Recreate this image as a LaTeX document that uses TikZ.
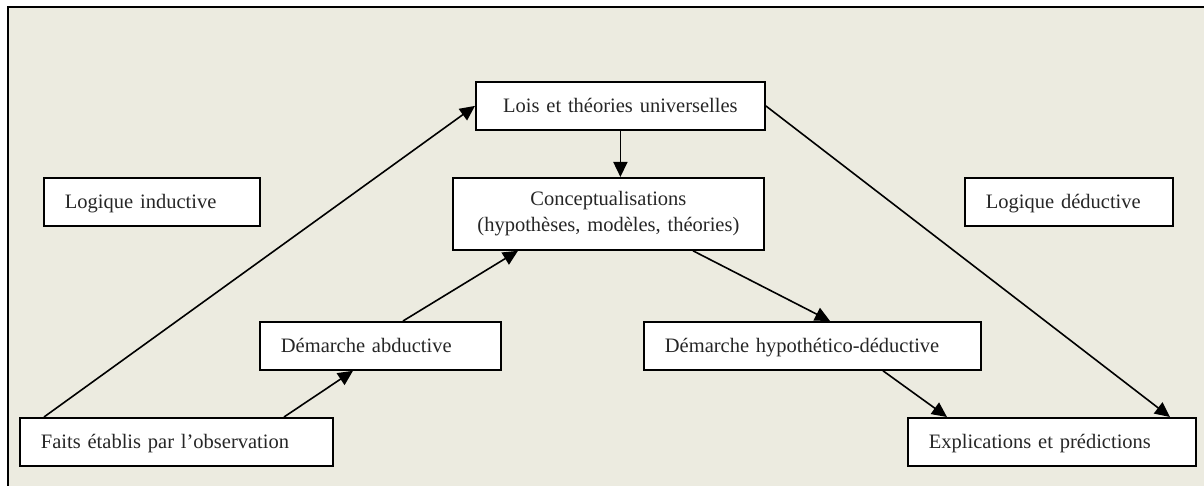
\documentclass[tikz,border=0pt]{standalone}
\usepackage{fontspec}
\setmainfont{Liberation Serif}
\usetikzlibrary{arrows.meta,calc}
\definecolor{paper}{RGB}{236,235,224}
\definecolor{ink}{RGB}{38,38,38}
\begin{document}
\begin{tikzpicture}[x=1pt,y=-1pt,
  frame/.style={draw=black, line width=1.8pt, fill=white, rectangle, anchor=north west,
    inner xsep=21pt, inner ysep=0pt, text=ink,
    font=\fontsize{20.5pt}{26pt}\selectfont},
  box/.style={frame, minimum height=48pt, align=left,
    text height=15pt, text depth=1pt},
  link/.style={line width=1.6pt, -{Triangle[length=15pt,width=14pt]}}]
  % page and framed panel
  \useasboundingbox (0,0) rectangle (1204,486);
  \fill[white] (0,0) rectangle (1204,486);
  \draw[line width=2pt, fill=paper] (8,7) rectangle (1230,510);

  % boxes
  \node[box, text width=247pt, align=center] (lois) at (475,81) {Lois et théories universelles};
  \node[frame, inner xsep=5pt, text width=301pt, align=center, minimum height=72pt]
    (concept) at (452,177) {Conceptualisations\\(hypothèses, modèles, théories)};
  \node[box, text width=174pt] (indu) at (43,177) {Logique inductive};
  \node[box, text width=166pt] (dedu) at (964,177) {Logique déductive};
  \node[box, text width=199pt] (abd) at (259,321) {Démarche abductive};
  \node[box, text width=295pt] (hyp) at (643,321) {Démarche hypothético-déductive};
  \node[box, text width=271pt] (faits) at (19,417) {Faits établis par l’observation};
  \node[box, text width=246pt] (expl) at (907,417) {Explications et prédictions};

  % connectors
  \draw[link] ($(faits.north west)+(25,0)$) -- (lois.west);
  \draw[link] (lois.south) -- (lois.south |- concept.north);
  \draw[link] ($(faits.north west)+(265,0)$) -- ($(abd.south west)+(94,0)$);
  \draw[link] ($(abd.north west)+(144,0)$) -- ($(concept.south west)+(66,0)$);
  \draw[link] ($(concept.south west)+(241,0)$) -- ($(hyp.north west)+(187,0)$);
  \draw[link] ($(hyp.south west)+(240,0)$) -- ($(expl.north west)+(40,0)$);
  \draw[link] (lois.east) -- ($(expl.north west)+(263,0)$);
\end{tikzpicture}
\end{document}
